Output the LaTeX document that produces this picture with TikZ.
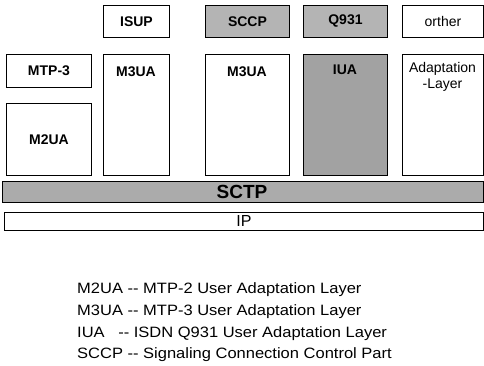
\documentclass[tikz,border=0pt]{standalone}
\usepackage{fontspec}
\setmainfont{Liberation Sans}
\newfontfamily\legendfont[FakeStretch=1.1]{Liberation Sans}
\usetikzlibrary{positioning}
\definecolor{shade}{HTML}{B4B4B4}
\definecolor{shadedark}{HTML}{A2A2A2}
\tikzset{
  box/.style={draw=black, line width=0.9pt, fill=white, inner sep=0pt, anchor=north west},
  graybox/.style={box, fill=shade},
  lbl/.style={font=\fontsize{14}{16}\selectfont\bfseries, inner sep=0pt},
  lblr/.style={font=\fontsize{14}{16}\selectfont, inner sep=0pt, align=center},
  legend/.style={font=\legendfont\fontsize{15}{18}\selectfont, anchor=base west, inner sep=0pt},
}
\begin{document}
\begin{tikzpicture}[x=1pt,y=-1pt]
\useasboundingbox (0,0) rectangle (484,366);
% top row
\node[box, minimum width=66pt, minimum height=32pt] (isup) at (103,5) {};
\node[graybox, minimum width=84pt, minimum height=32pt] (sccp) at (205,5) {};
\node[graybox, minimum width=84pt, minimum height=32pt] (q931) at (303,5) {};
\node[box, minimum width=81pt, minimum height=32pt] (orther) at (402,5) {};
\node[lbl] (isupt) at (isup.center) {ISUP};
\node[lbl] (sccpt) at (sccp.center) {SCCP};
\node[lbl] (q931t) at (q931.center) {Q931};
\node[lblr] (orthert) at (orther.center) {orther};
% second row
\node[box, minimum width=85pt, minimum height=33pt] (mtp3) at (6,54) {};
\node[box, minimum width=85pt, minimum height=72pt] (m2ua) at (6,103) {};
\node[box, minimum width=66pt, minimum height=121pt] (m3uaa) at (103,54) {};
\node[box, minimum width=84pt, minimum height=121pt] (m3uab) at (205,54) {};
\node[box, fill=shadedark, minimum width=84pt, minimum height=121pt] (iua) at (303,54) {};
\node[box, minimum width=81pt, minimum height=121pt] (adapt) at (402,54) {};
\node[lbl] (mtp3t) at (mtp3.center) {MTP-3};
\node[lbl] (m2uat) at (m2ua.center) {M2UA};
\node[lbl] (m3uaat) at (136,72) {M3UA};
\node[lbl] (m3uabt) at (247,72) {M3UA};
\node[lbl] (iuat) at (345,70) {IUA};
\node[lblr, anchor=north] (adaptt) at (442.5,62) {Adaptation\\-Layer};
% SCTP and IP
\node[graybox, fill=shade!95!black, minimum width=481pt, minimum height=21pt] (sctp) at (2,181) {};
\node[font=\fontsize{19}{22}\selectfont\bfseries, inner sep=0pt] (sctpt) at (242,191.5) {SCTP};
\node[box, minimum width=479pt, minimum height=18pt] (ip) at (4,212) {};
\node[font=\fontsize{16}{18}\selectfont, inner sep=0pt] (ipt) at (ip.center) {IP};
% legend
\node[legend] (l1) at (77,293) {M2UA -- MTP-2 User Adaptation Layer};
\node[legend] (l2) at (77,315) {M3UA -- MTP-3 User Adaptation Layer};
\node[legend] (l3) at (77,337) {IUA\hspace{9pt} -- ISDN Q931 User Adaptation Layer};
\node[legend] (l4) at (77,358) {SCCP -- Signaling Connection Control Part};
\end{tikzpicture}
\end{document}
